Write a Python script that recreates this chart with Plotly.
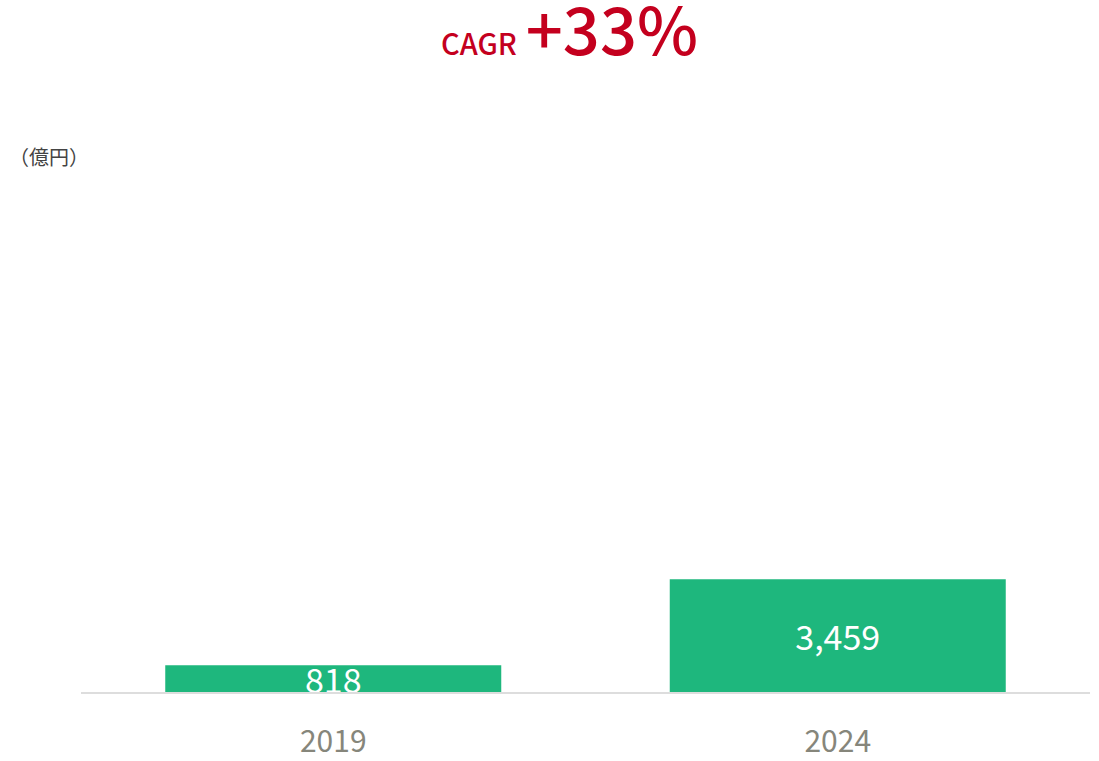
import plotly.graph_objects as go

# Revenue (億円) for the two comparison years
years = ["2019", "2024"]
revenue = [818, 3459]
value_labels = ["818", "3,459"]

cagr_label = "CAGR"
cagr_value = "+33%"
unit_label = "（億円）"

GREEN = "#1eb77d"
RED = "#c4001e"
FONT = "Noto Sans CJK JP"

fig = go.Figure(
    go.Bar(
        x=years,
        y=revenue,
        text=value_labels,
        textposition="inside",
        insidetextanchor="middle",
        constraintext="none",
        textfont=dict(family=FONT, size=34, color="white"),
        marker=dict(color=GREEN, line=dict(width=0)),
        hoverinfo="skip",
    )
)

fig.update_layout(
    width=1099,
    height=761,
    margin=dict(l=81, r=9, t=170, b=69),
    paper_bgcolor="white",
    plot_bgcolor="white",
    bargap=0.334,
    showlegend=False,
    font=dict(family=FONT),
    xaxis=dict(
        automargin=False,
        showgrid=False,
        showline=True,
        linecolor="#dddddd",
        linewidth=2,
        ticks="",
        tickfont=dict(family=FONT, size=30, color="#86867b"),
        ticklabelstandoff=22,
    ),
    yaxis=dict(
        automargin=False,
        range=[0, 16000],
        visible=False,
        showgrid=False,
        zeroline=False,
    ),
    annotations=[
        dict(
            text=(
                f"<span style='font-size:29px'>{cagr_label}</span>"
                f"<span style='font-size:40px'>\u00a0</span>"
                f"<span style='font-size:65px'>{cagr_value}</span>"
            ),
            xref="paper", yref="paper",
            x=(569 - 81) / 1009, y=1 + (170 - 27) / 522,
            xanchor="center", yanchor="middle",
            showarrow=False,
            font=dict(family=FONT, color=RED, weight=500),
        ),
        dict(
            text=unit_label,
            xref="paper", yref="paper",
            x=(7 - 81) / 1009, y=1 + (170 - 156) / 522,
            xanchor="left", yanchor="middle",
            showarrow=False,
            font=dict(family=FONT, size=20, color="#444444"),
        ),
    ],
)

fig.write_html("out.html")
